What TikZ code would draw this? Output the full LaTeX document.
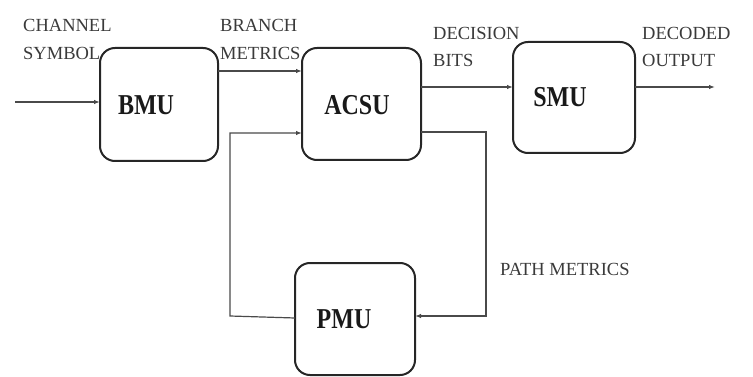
\documentclass[tikz,border=0pt]{standalone}
\usepackage{fontspec}
\setmainfont{Liberation Serif}
\usetikzlibrary{arrows.meta}
\definecolor{linegray}{HTML}{4A4A4A}
\definecolor{txtgray}{HTML}{3A3A3A}
\begin{document}
\begin{tikzpicture}[x=1pt,y=-1pt,
  blk/.style={draw=black!85,line width=2pt,rounded corners=15pt},
  blklabel/.style={anchor=base,inner sep=0pt,font=\fontsize{24}{24}\selectfont\bfseries,text=black!90},
  sig/.style={anchor=base west,inner sep=0pt,font=\fontsize{18.5}{18.5}\selectfont,text=txtgray},
  conn/.style={draw=linegray,line width=1.2pt,-{Latex[length=6pt,width=4.5pt]}},
  wire/.style={draw=linegray,line width=1.2pt}]
\useasboundingbox (0,0) rectangle (753,377);
% boxes
\draw[blk] (100,48) rectangle (218,161);
\draw[blk] (302,48) rectangle (421,160);
\draw[blk] (513,42) rectangle (635,153);
\draw[blk] (295,263) rectangle (415,375);
% box labels
\node[blklabel] (lbmu) at (146,115) {\scalebox{1}[1.2]{BMU}};
\node[blklabel] (lacsu) at (357,115) {\scalebox{1}[1.2]{ACSU}};
\node[blklabel] (lsmu) at (560,107) {\scalebox{1}[1.2]{SMU}};
\node[blklabel] (lpmu) at (344,328) {\scalebox{1}[1.2]{PMU}};
% coordinates for connectors
\coordinate (in) at (15,102);
\coordinate (bmuin) at (100,102);
\coordinate (bmuout) at (218,71);
\coordinate (acsuin1) at (302,71);
\coordinate (acsuin2) at (302,133);
\coordinate (acsuout1) at (421,87);
\coordinate (acsuout2) at (421,132);
\coordinate (smuin) at (513,87);
\coordinate (smuout) at (635,87);
\coordinate (out) at (715,87);
\coordinate (pmuin) at (415,316);
\coordinate (pmuout) at (295,318);
\coordinate (fbL) at (230,316);
\coordinate (fbR) at (486,316);
% connectors
\draw[conn] (in) -- (bmuin);
\draw[conn] (bmuout) -- (acsuin1);
\draw[conn] (acsuout1) -- (smuin);
\draw[conn] (smuout) -- (out);
\draw[conn] (acsuout2) -| (fbR) -- (pmuin);
\draw[conn] (pmuout) -- (fbL) |- (acsuin2);
% labels
\node[sig] (t1) at (23,32) {CHANNEL};
\node[sig] (t2) at (23,60) {SYMBOL};
\node[sig] (t3) at (220,32) {BRANCH};
\node[sig] (t4) at (220,60) {METRICS};
\node[sig] (t5) at (433,40) {DECISION};
\node[sig] (t6) at (433,67) {BITS};
\node[sig] (t7) at (642,40) {DECODED};
\node[sig] (t8) at (642,67) {OUTPUT};
\node[sig] (t9) at (500,276) {PATH METRICS};
\end{tikzpicture}
\end{document}
